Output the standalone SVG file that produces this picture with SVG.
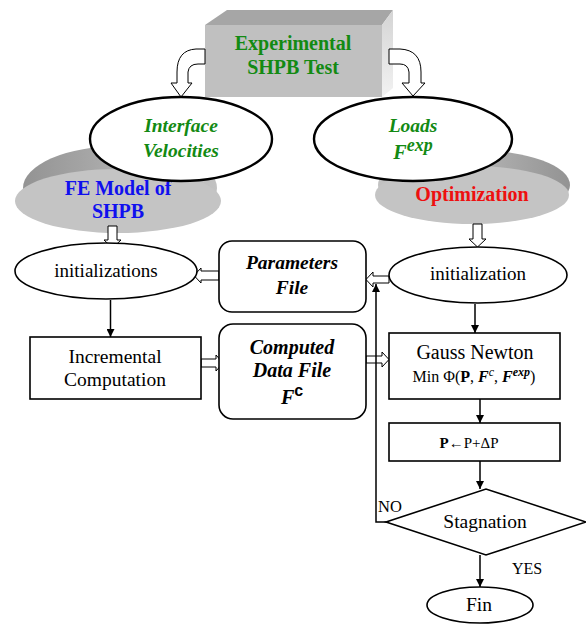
<svg xmlns="http://www.w3.org/2000/svg" width="586" height="624" viewBox="0 0 586 624">
<defs>
<linearGradient id="rimL" x1="0" y1="0" x2="1" y2="0"><stop offset="0" stop-color="#939393"/><stop offset="0.6" stop-color="#b4b4b4"/><stop offset="1" stop-color="#c2c2c2"/></linearGradient>
<linearGradient id="rimR" x1="0" y1="0" x2="1" y2="0"><stop offset="0" stop-color="#c2c2c2"/><stop offset="0.5" stop-color="#b4b4b4"/><stop offset="1" stop-color="#939393"/></linearGradient>
<linearGradient id="side" x1="0" y1="0" x2="0" y2="1"><stop offset="0" stop-color="#d4d4d4"/><stop offset="1" stop-color="#f2f2f2"/></linearGradient>
<marker id="ah" viewBox="0 0 10 10" refX="10" refY="5" markerWidth="8" markerHeight="8" markerUnits="userSpaceOnUse" orient="auto"><path d="M0,0 L10,5 L0,10 Z" fill="#000"/></marker>
</defs>
<style>
text{font-family:"Liberation Serif","Times New Roman",serif;text-anchor:middle;fill:#000}
.g{fill:#138a13;font-weight:bold}
.bi{font-weight:bold;font-style:italic}
.b{font-weight:bold}
.ol{fill:#fff;stroke:#000;stroke-width:1.6}
.thick{fill:#fff;stroke:#000;stroke-width:2.4}
.blk{fill:#fff;stroke:#000;stroke-width:1;stroke-linejoin:miter}
.ln{fill:none;stroke:#000;stroke-width:1.5}
</style>

<g id="fe-model">
<ellipse cx="120" cy="188" rx="97" ry="42" fill="url(#rimL)"/>
<ellipse cx="118" cy="201" rx="103" ry="32" fill="#c4c4c4"/>
<text x="118" y="195" font-size="20" class="b" style="fill:#1010ee">FE Model of</text>
<text x="118" y="218" font-size="20" class="b" style="fill:#1010ee">SHPB</text>
</g>

<g id="optimization">
<ellipse cx="474" cy="185" rx="96" ry="35" fill="url(#rimR)"/>
<ellipse cx="472" cy="195" rx="97" ry="29" fill="#c4c4c4"/>
<text x="472" y="201" font-size="20" class="b" style="fill:#ee1010">Optimization</text>
</g>

<g id="experimental">
<rect x="205" y="25" width="177" height="72" fill="#c0c0c0"/>
<polygon points="205,25 227,10 393,10 382,25" fill="#a6a6a6"/>
<polygon points="382,25 393,10 393,88 382,97" fill="url(#side)"/>
<text x="293" y="50" font-size="20" class="g">Experimental</text>
<text x="293" y="74" font-size="20" class="g">SHPB Test</text>
</g>

<g id="connectors">
<path class="blk" d="M205,49 L196,49 Q177,50 177,72 L177,83 L171,83 L181,97 L192,83 L188,83 L188,72 Q189,64 198,64 L205,64 Z"/>
<path class="blk" d="M389,49 L400,49 Q421,50 421,72 L421,83 L425,83 L413,96 L402,83 L409,83 L409,72 Q408,64 400,64 L389,64 Z"/>
<path class="blk" d="M108,226 L117,226 L117,240 L121,240 L112.5,248 L104,240 L108,240 Z"/>
<path class="blk" d="M473,224 L482,224 L482,239 L486,239 L477.5,247 L469,239 L473,239 Z"/>
<path class="blk" d="M389,276 L373,276 L373,272 L366,279.5 L373,287 L373,283 L389,283 Z"/>
<path class="blk" d="M219,271 L201,271 L201,268 L194,275.5 L201,283 L201,280 L219,280 Z"/>
<path class="blk" d="M201,359 L216,359 L216,355 L223,363 L216,371 L216,367 L201,367 Z"/>
<path class="blk" d="M366,356 L382,356 L382,352 L389,359.5 L382,367 L382,363 L366,363 Z"/>
<line class="ln" x1="110.5" y1="300" x2="110.5" y2="337" marker-end="url(#ah)"/>
<line class="ln" x1="475" y1="304" x2="475" y2="333" marker-end="url(#ah)"/>
<line class="ln" x1="480" y1="399" x2="480" y2="423" marker-end="url(#ah)"/>
<line class="ln" x1="480" y1="461" x2="480" y2="489" marker-end="url(#ah)"/>
<line class="ln" x1="480" y1="555" x2="480" y2="587" marker-end="url(#ah)"/>
<polyline class="ln" points="386,522 376,522 376,284" marker-end="url(#ah)"/>
<text x="390" y="512" font-size="16.5">NO</text>
<text x="527" y="574" font-size="16">YES</text>
</g>

<g id="interface-velocities">
<ellipse class="thick" cx="181" cy="139" rx="91" ry="42"/>
<text x="181" y="132" font-size="19.5" class="g" font-style="italic">Interface</text>
<text x="181" y="157" font-size="19.5" class="g" font-style="italic">Velocities</text>
</g>

<g id="loads">
<ellipse class="thick" cx="413" cy="139" rx="99" ry="42"/>
<text x="413" y="132" font-size="19.5" class="g" font-style="italic">Loads</text>
<text x="413" y="159" font-size="20" class="g" font-style="italic">F<tspan font-size="18" dy="-8">exp</tspan></text>
</g>

<g id="initializations">
<ellipse class="ol" cx="106" cy="271" rx="91" ry="28"/>
<text x="106" y="277" font-size="19">initializations</text>
</g>

<g id="parameters-file">
<rect class="ol" x="219" y="241" width="147" height="71" rx="13"/>
<text x="292" y="269" font-size="19.5" class="bi">Parameters</text>
<text x="292" y="294" font-size="19.5" class="bi">File</text>
</g>

<g id="initialization">
<ellipse class="ol" cx="478" cy="275" rx="89" ry="28"/>
<text x="478" y="280" font-size="19">initialization</text>
</g>

<g id="incremental">
<rect class="ol" x="30" y="337" width="171" height="62"/>
<text x="115" y="363" font-size="19.5">Incremental</text>
<text x="115" y="386" font-size="19.5">Computation</text>
</g>

<g id="computed-data">
<rect class="ol" x="219" y="324" width="147" height="95" rx="14"/>
<text x="292" y="354" font-size="20" class="bi">Computed</text>
<text x="292" y="377" font-size="20" class="bi">Data File</text>
<text x="292" y="404" font-size="20" class="bi">F<tspan font-size="16" dy="-8" style="font-family:'Liberation Sans',sans-serif;font-style:normal">c</tspan></text>
</g>

<g id="gauss-newton">
<rect class="ol" x="389" y="333" width="171" height="66"/>
<text x="475" y="359" font-size="20">Gauss Newton</text>
<text x="474" y="382" font-size="16">Min Φ(<tspan class="b">P</tspan>, <tspan class="bi">F</tspan><tspan font-size="12" dy="-6" font-style="italic">c</tspan><tspan dy="6">, </tspan><tspan class="bi">F</tspan><tspan font-size="12" dy="-6" class="bi">exp</tspan><tspan dy="6">)</tspan></text>
</g>

<g id="update">
<rect class="ol" x="389" y="423" width="171" height="38"/>
<text x="469" y="448" font-size="15"><tspan class="b">P</tspan>←P+ΔP</text>
</g>

<g id="stagnation">
<polygon class="ol" points="386,522 486,489 586,522 486,555"/>
<text x="485" y="528" font-size="19.5">Stagnation</text>
</g>

<g id="fin">
<ellipse class="ol" cx="480" cy="605" rx="53" ry="18"/>
<text x="479" y="611" font-size="19.5">Fin</text>
</g>
</svg>
